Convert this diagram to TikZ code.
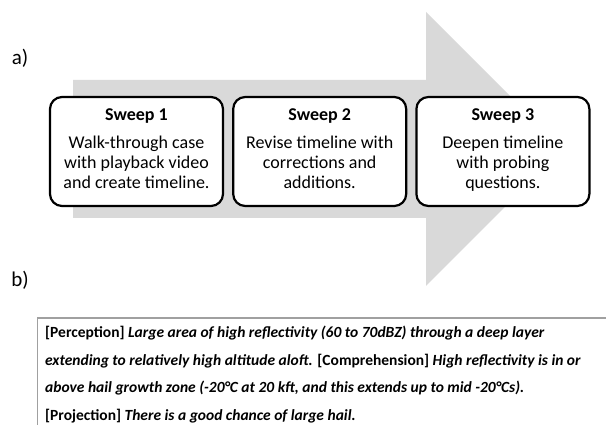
\documentclass[tikz,border=0pt]{standalone}
\usepackage{fontspec}
\setmainfont{Carlito}
\usepackage{xcolor}
\usepackage{tikz}
\usetikzlibrary{positioning,calc}
\definecolor{arrowGray}{HTML}{D9D9D9}
\definecolor{frameGray}{HTML}{A0A0A0}
\tikzset{
  sweepBox/.style={
    rectangle,
    rounded corners=12pt,
    draw=black,
    line width=2.2pt,
    fill=white,
    minimum width=173pt,
    minimum height=109pt,
    inner sep=0pt,
    align=center,
    font=\fontsize{18}{20}\selectfont
  },
  panelLabel/.style={
    inner sep=0pt,
    font=\fontsize{21}{24}\selectfont
  },
  noteText/.style={
    inner sep=0pt,
    align=left,
    font=\fontsize{15.5}{27.5}\selectfont\bfseries
  },
  frameLine/.style={
    draw=frameGray
  }
}

\begin{document}
\begin{tikzpicture}[x=1pt,y=1pt]
        \useasboundingbox (0,0) rectangle (606,425);

        % big grey arrow behind the three sweeps
        \fill[arrowGray] (73,345) -- (426,345) -- (426,413) -- (563,276)
            -- (426,139) -- (426,207) -- (73,207) -- cycle;

        \node[sweepBox] (sweepOne) at (136.5,273.5)
            {\textbf{Sweep 1}\\[8pt] Walk-through case\\ with playback video\\ and create timeline.\strut};
        \node[sweepBox, right=8pt of sweepOne] (sweepTwo)
            {\textbf{Sweep 2}\\[8pt] Revise timeline with\\ corrections and\\ additions.\strut};
        \node[sweepBox, right=8pt of sweepTwo] (sweepThree)
            {\textbf{Sweep 3}\\[8pt] Deepen timeline\\ with probing\\ questions.\strut};

        \node[panelLabel] (labelA) at (20,367) {a)};
        \node[panelLabel] (labelB) at (20,145) {b)};

        % transcript excerpt
        \draw[frameLine, line width=0.8pt] (37,0) -- (37,107);
        \draw[frameLine, line width=2pt] (37,107) -- (606,107);
        \node[noteText, anchor=north west] (note) at (45,99)
            {{[Perception]} \textit{Large area of high reflectivity (60 to 70dBZ) through a deep layer}\\
             \textit{extending to relatively high altitude aloft.} [Comprehension] \textit{High reflectivity is in or}\\
             \textit{above hail growth zone (-20°C at 20 kft, and this extends up to mid -20°Cs).}\\
             {[Projection]} \textit{There is a good chance of large hail.}};
    \end{tikzpicture}
\end{document}
